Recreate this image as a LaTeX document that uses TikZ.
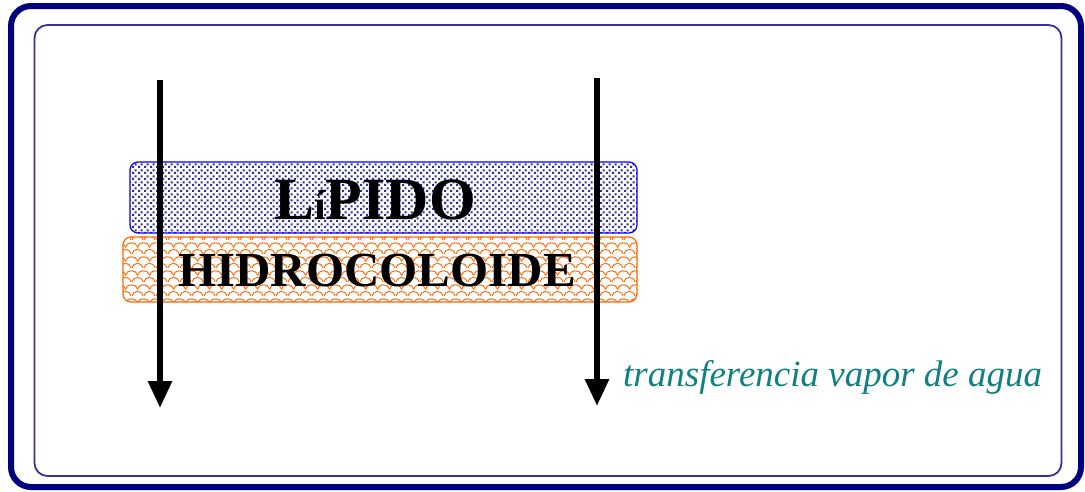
\documentclass[tikz,border=0pt]{standalone}
\usepackage{fontspec}
\setmainfont{Liberation Serif}
\usetikzlibrary{patterns,patterns.meta,arrows.meta}
\definecolor{navy}{HTML}{000080}
\definecolor{framein}{HTML}{333399}
\definecolor{lipblue}{HTML}{0000FF}
\definecolor{dotblue}{HTML}{2E2E99}
\definecolor{hcorange}{HTML}{FF6600}
\definecolor{tealtxt}{HTML}{108080}
\tikzdeclarepattern{
  name=scallops, type=uncolored,
  bounding box={(0,0) and (12pt,14pt)},
  tile size={(12pt,14pt)},
  code={
    \draw[line width=1pt] (0pt,0pt) .. controls (1pt,6pt) and (10pt,7pt) .. (12pt,0pt);
    \draw[line width=1pt] (-6pt,7pt) .. controls (-5pt,13pt) and (4pt,14pt) .. (6pt,7pt);
    \draw[line width=1pt] (6pt,7pt) .. controls (7pt,13pt) and (16pt,14pt) .. (18pt,7pt);
  }
}
\tikzdeclarepattern{
  name=sqdots, type=uncolored,
  bounding box={(0,0) and (6pt,6pt)},
  tile size={(6pt,6pt)},
  code={
    \fill (0pt,0pt) rectangle (2.4pt,2.4pt);
    \fill (3pt,3pt) rectangle (5.4pt,5.4pt);
  }
}
\tikzset{
  layerbox/.style={rounded corners=8pt, line width=1.2pt},
  flowarrow/.style={line width=6pt, -{Triangle[width=23pt,length=27pt]}},
  layertext/.style={font=\bfseries, text=black}
}
\begin{document}
\begin{tikzpicture}[x=1pt,y=-1pt]
\useasboundingbox (0,0) rectangle (1085,491);
% frames
\draw[navy, line width=6pt, rounded corners=20pt] (11,6) rectangle (1081,487);
\draw[framein, line width=1.8pt, rounded corners=13pt] (34.5,25) rectangle (1061.5,476);
% layers
\draw[layerbox, draw=lipblue, pattern=sqdots, pattern color=dotblue] (130,162) rectangle (637,233);
\draw[layerbox, draw=hcorange, pattern=scallops, pattern color=hcorange] (123,237) rectangle (637,302);
\node[layertext] (lip) at (375,200) {\fontsize{60}{60}\selectfont L\raisebox{0pt}{\fontsize{42}{42}\selectfont í}PIDO};
\node[layertext] (hid) at (377,271) {\fontsize{49}{49}\selectfont HIDROCOLOIDE};
% arrows
\coordinate (a1s) at (160,80);
\coordinate (a1e) at (160,408);
\coordinate (a2s) at (597,78);
\coordinate (a2e) at (597,406);
\draw[flowarrow] (a1s) -- (a1e);
\draw[flowarrow] (a2s) -- (a2e);
\node[anchor=base west, inner sep=0pt, text=tealtxt, font=\itshape\fontsize{37}{37}\selectfont] (lbl) at (623,386) {transferencia vapor de agua};
\end{tikzpicture}
\end{document}
